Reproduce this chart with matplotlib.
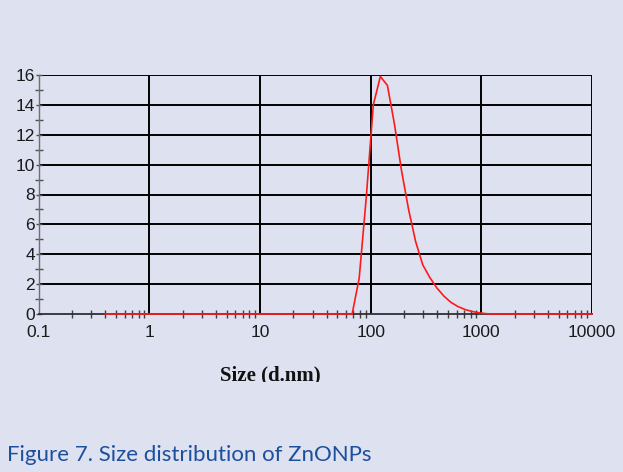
import matplotlib
matplotlib.use("Agg")
import matplotlib.pyplot as plt
from matplotlib.patches import Rectangle
from matplotlib.ticker import FixedLocator, FixedFormatter, NullFormatter

# Size bins (d.nm) and intensity (%)
sizes = [0.4, 0.4632, 0.5365, 0.6213, 0.7195, 0.8332, 0.9649, 1.117, 1.294, 1.499,
         1.736, 2.010, 2.328, 2.696, 3.122, 3.615, 4.187, 4.849, 5.615, 6.503,
         7.531, 8.721, 10.10, 11.70, 13.54, 15.69, 18.17, 21.04, 24.36, 28.21,
         32.67, 37.84, 43.82, 50.75, 58.77, 68.06, 78.82, 91.28, 105.7, 122.4,
         141.8, 164.2, 190.1, 220.2, 255.0, 295.3, 342.0, 396.1, 458.7, 531.2,
         615.1, 712.4, 825.0, 955.4, 1106, 1281, 1484, 1718, 1990, 2305,
         2669, 3091, 3580, 4145, 4801, 5560, 6439, 7456, 8635, 10000]
intensity = [0.0] * 35 + [0.0, 2.4, 7.8, 14.0, 15.9,
                          15.3, 12.7, 9.6, 7.0, 4.85, 3.3, 2.45, 1.75, 1.2, 0.78,
                          0.5, 0.3, 0.17, 0.08, 0.02] + [0.0] * 15

x_major = [0.1, 1, 10, 100, 1000, 10000]
x_labels = ["0.1", "1", "10", "100", "1000", "10000"]
y_major = [0, 2, 4, 6, 8, 10, 12, 14, 16]
y_minor = [1, 3, 5, 7, 9, 11, 13, 15]
x_minor = [m * d for d in [0.1, 1, 10, 100, 1000] for m in range(2, 10)]

plt.rcParams["font.family"] = ["Liberation Sans", "DejaVu Sans"]
plt.rcParams["xtick.labelsize"] = 12.5
plt.rcParams["ytick.labelsize"] = 12.5

BG = "#dde1f0"
W, H = 623, 472
fig = plt.figure(figsize=(W / 100, H / 100), dpi=100, facecolor=BG)
L, R, T, B = 38.6, 592, 75, 314
ax = fig.add_axes([L / W, 1 - B / H, (R - L) / W, (B - T) / H])
ax.set_facecolor(BG)
ax.set_xscale("log")
ax.set_xlim(0.1, 10000)
ax.set_ylim(0, 16)

# grid lines
for yv in y_major[1:]:
    ax.axhline(yv, color="black", lw=1.4, zorder=1)
for xv in x_major[1:]:
    ax.axvline(xv, color="black", lw=1.4, zorder=1)

for s in ["top", "right"]:
    ax.spines[s].set_visible(False)
ax.spines["left"].set_color("#707070")
ax.spines["left"].set_linewidth(1.0)
ax.spines["bottom"].set_color("#303030")
ax.spines["bottom"].set_linewidth(1.3)

ax.xaxis.set_major_locator(FixedLocator(x_major))
ax.xaxis.set_major_formatter(FixedFormatter(x_labels))
ax.xaxis.set_minor_locator(FixedLocator(x_minor))
ax.xaxis.set_minor_formatter(NullFormatter())
ax.yaxis.set_major_locator(FixedLocator(y_major))
ax.yaxis.set_minor_locator(FixedLocator(y_minor))

ax.tick_params(axis="x", which="major", length=0, pad=8, labelcolor="#1a1a1a")
ax.tick_params(axis="x", which="minor", direction="inout", length=6, width=1, color="#404040")
ax.tick_params(axis="y", which="major", direction="inout", length=5, width=1, color="#505050",
               pad=0, labelcolor="#1a1a1a")
ax.tick_params(axis="y", which="minor", direction="inout", length=6, width=1, color="#505050")

ax.plot(sizes, intensity, color="#ff1a1a", lw=1.2, zorder=5, clip_on=False)

fig.text(270 / W, 1 - 380 / H, "Size (d.nm)", family="Liberation Serif", weight="bold",
         size=15, ha="center", va="baseline", color="#111111")
# crop of the original image cuts the bottom of the axis title
fig.add_artist(Rectangle((0, 0), 1, 1 - 381.5 / H, transform=fig.transFigure,
                         facecolor=BG, edgecolor="none", zorder=10))

fig.text(7 / W, 1 - 461 / H, "Figure 7. Size distribution of ZnONPs", family="Lato",
         size=16, ha="left", va="baseline", color="#1c4f9c", zorder=11)

fig.savefig("out.png", dpi=100, facecolor=BG)
